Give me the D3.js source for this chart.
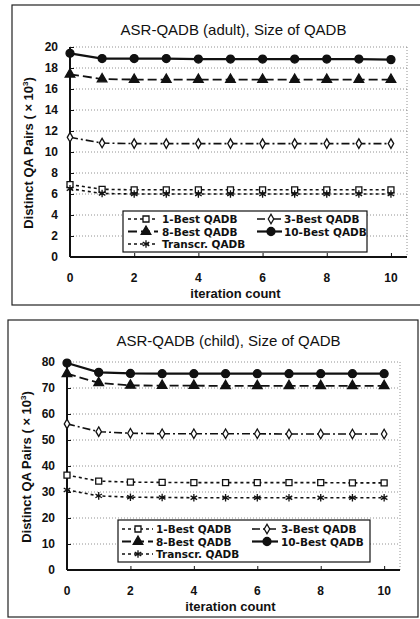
<!DOCTYPE html>
<html lang="en">
<head>
  <meta charset="UTF-8">
  <title>ASR-QADB, Size of QADB</title>
  <script src="https://d3js.org/d3.v7.min.js"></script>
  <style>
    body { margin: 0; background: #fff; }
    text { font-family: "Liberation Sans", Arial, sans-serif; fill: #111; }
    .tick-label { font-size: 12px; font-weight: bold; }
    .axis-title { font-size: 13px; font-weight: bold; }
    .chart-title { font-size: 15px; }
    .legend-text { font-family: "DejaVu Sans", sans-serif; font-size: 10.5px; font-weight: bold; }
  </style>
</head>
<body>
  <svg id="chart" width="420" height="619"></svg>

  <script>
    // x values: iteration count
    const iterations = [0, 1, 2, 3, 4, 5, 6, 7, 8, 9, 10];
    const xTicks = [0, 2, 4, 6, 8, 10];

    // adult panel (x 10^3)
    const adult1Best   = [6.9, 6.45, 6.4, 6.4, 6.4, 6.4, 6.4, 6.4, 6.4, 6.4, 6.4];
    const adult3Best   = [11.4, 10.85, 10.8, 10.8, 10.8, 10.8, 10.8, 10.8, 10.8, 10.8, 10.8];
    const adult8Best   = [17.4, 16.95, 16.9, 16.9, 16.9, 16.9, 16.9, 16.9, 16.9, 16.9, 16.9];
    const adult10Best  = [19.4, 18.9, 18.9, 18.9, 18.85, 18.85, 18.85, 18.85, 18.85, 18.85, 18.8];
    const adultTranscr = [6.5, 6.05, 6.0, 6.0, 6.0, 6.0, 6.0, 6.0, 6.0, 6.0, 6.0];
    const adultYTicks  = [0, 2, 4, 6, 8, 10, 12, 14, 16, 18, 20];

    // child panel (x 10^3)
    const child1Best   = [36.5, 34.2, 33.8, 33.7, 33.6, 33.6, 33.6, 33.6, 33.6, 33.5, 33.5];
    const child3Best   = [56.2, 53.2, 52.6, 52.4, 52.4, 52.4, 52.4, 52.3, 52.3, 52.3, 52.3];
    const child8Best   = [75.5, 72.0, 71.0, 70.9, 70.9, 70.8, 70.8, 70.8, 70.8, 70.8, 70.8];
    const child10Best  = [79.6, 76.0, 75.6, 75.5, 75.5, 75.5, 75.5, 75.5, 75.5, 75.5, 75.5];
    const childTranscr = [30.8, 28.5, 28.0, 27.9, 27.8, 27.8, 27.8, 27.8, 27.8, 27.8, 27.8];
    const childYTicks  = [0, 10, 20, 30, 40, 50, 60, 70, 80];

    const seriesNames = ["1-Best QADB", "3-Best QADB", "8-Best QADB", "10-Best QADB", "Transcr. QADB"];

    // line + marker style per series
    const styles = {
      "1-Best QADB":   { dash: "3,3",     width: 1.6, symbol: d3.symbolSquare,   size: 36, fill: "#fff" },
      "3-Best QADB":   { dash: "8,3,2,3", width: 1.6, symbol: d3.symbolDiamond,  size: 26, fill: "#fff" },
      "8-Best QADB":   { dash: "9,4",     width: 1.8, symbol: d3.symbolTriangle, size: 40, fill: "#111" },
      "10-Best QADB":  { dash: null,      width: 2.2, symbol: d3.symbolCircle,   size: 50, fill: "#111" },
      "Transcr. QADB": { dash: "3,3",     width: 1.6, symbol: d3.symbolAsterisk, size: 40, fill: "none" }
    };

    const svg = d3.select("#chart");

    function drawPanel(p) {
      const g = svg.append("g");

      // outer frame
      g.append("rect")
        .attr("x", p.frame[0]).attr("y", p.frame[1])
        .attr("width", p.frame[2] - p.frame[0]).attr("height", p.frame[3] - p.frame[1])
        .attr("fill", "none").attr("stroke", "#222").attr("stroke-width", 1.2);

      g.append("text")
        .attr("class", "chart-title")
        .attr("x", (p.left + p.right) / 2 - 5)
        .attr("y", p.titleY)
        .attr("text-anchor", "middle")
        .text(p.title);

      const x = d3.scaleLinear().domain([0, 10.5]).range([p.left, p.right]);
      const y = d3.scaleLinear().domain([0, d3.max(p.yTicks)]).range([p.bottom, p.top]);

      // dotted gridlines and plot border
      g.selectAll(".grid")
        .data(p.yTicks.filter(d => d > 0))
        .enter()
        .append("line")
        .attr("x1", p.left).attr("x2", p.right)
        .attr("y1", d => y(d)).attr("y2", d => y(d))
        .attr("stroke", "#777").attr("stroke-width", 0.8).attr("stroke-dasharray", "1,2");
      g.append("line")
        .attr("x1", p.right).attr("x2", p.right).attr("y1", p.top).attr("y2", p.bottom)
        .attr("stroke", "#777").attr("stroke-width", 0.8).attr("stroke-dasharray", "1,2");

      // axes
      const yAxis = g.append("g")
        .attr("transform", "translate(" + p.left + ",0)")
        .call(d3.axisRight(y).tickValues(p.yTicks).tickSize(4).tickFormat(""));
      const xAxis = g.append("g")
        .attr("transform", "translate(0," + p.bottom + ")")
        .call(d3.axisTop(x).tickValues(xTicks).tickSize(4).tickFormat(""));
      [yAxis, xAxis].forEach(a => {
        a.select(".domain").attr("stroke", "#111").attr("stroke-width", 2);
        a.selectAll(".tick line").attr("stroke", "#111").attr("stroke-width", 1);
      });
      yAxis.select(".domain").attr("d", "M0," + p.top + "V" + p.bottom);
      xAxis.select(".domain").attr("d", "M" + p.left + ",0H" + p.right);

      g.selectAll(".ylab")
        .data(p.yTicks)
        .enter()
        .append("text")
        .attr("class", "tick-label")
        .attr("x", p.left - 12)
        .attr("y", d => y(d) + 4)
        .attr("text-anchor", "end")
        .text(d => d);

      g.selectAll(".xlab")
        .data(xTicks)
        .enter()
        .append("text")
        .attr("class", "tick-label")
        .attr("x", d => x(d))
        .attr("y", p.bottom + 25)
        .attr("text-anchor", "middle")
        .text(d => d);

      g.append("text")
        .attr("class", "axis-title")
        .attr("x", (p.left + p.right) / 2 - 3)
        .attr("y", p.bottom + 41)
        .attr("text-anchor", "middle")
        .text("iteration count");

      const yt = g.append("text")
        .attr("class", "axis-title")
        .attr("transform", "translate(" + p.yTitleX + "," + ((p.top + p.bottom) / 2 + 1) + ") rotate(-90)")
        .attr("text-anchor", "middle");
      yt.append("tspan").text("Distinct QA Pairs ( \u00d7 10");
      yt.append("tspan").attr("dy", -5).attr("font-size", "8px").text("3");
      yt.append("tspan").attr("dy", 5).text(")");

      // series
      const line = d3.line().x((d, i) => x(iterations[i])).y(d => y(d));
      seriesNames.forEach((name, k) => {
        const st = styles[name];
        const vals = p.series[k];
        g.append("path")
          .datum(vals)
          .attr("d", line)
          .attr("fill", "none")
          .attr("stroke", "#111")
          .attr("stroke-width", st.width)
          .attr("stroke-dasharray", st.dash);
        g.selectAll(".m" + k)
          .data(vals)
          .enter()
          .append("path")
          .attr("transform", (d, i) => "translate(" + x(iterations[i]) + "," + y(d) + ")")
          .attr("d", d3.symbol().type(st.symbol).size(st.size))
          .attr("fill", st.fill)
          .attr("stroke", "#111")
          .attr("stroke-width", 1.3);
      });

      // legend
      const L = p.legend;
      g.append("rect")
        .attr("x", L.x0).attr("y", L.y0)
        .attr("width", L.x1 - L.x0).attr("height", L.y1 - L.y0)
        .attr("fill", "#fff").attr("stroke", "#111").attr("stroke-width", 1.2);
      const slots = [[0, 0], [1, 0], [0, 1], [1, 1], [0, 2]];
      seriesNames.forEach((name, k) => {
        const st = styles[name];
        const col = L.cols[slots[k][0]];
        const cy = L.rows[slots[k][1]];
        g.append("line")
          .attr("x1", col.l0).attr("x2", col.l1).attr("y1", cy).attr("y2", cy)
          .attr("stroke", "#111").attr("stroke-width", st.width)
          .attr("stroke-dasharray", st.dash);
        g.append("path")
          .attr("transform", "translate(" + col.m + "," + cy + ")")
          .attr("d", d3.symbol().type(st.symbol).size(st.size))
          .attr("fill", st.fill).attr("stroke", "#111").attr("stroke-width", 1.3);
        g.append("text")
          .attr("class", "legend-text")
          .attr("x", col.t).attr("y", cy + 4)
          .text(name);
      });
    }

    drawPanel({
      title: "ASR-QADB (adult), Size of QADB",
      frame: [12, 5, 421, 305],
      titleY: 35,
      left: 70, right: 407, top: 47, bottom: 257,
      yTitleX: 33,
      yTicks: adultYTicks,
      series: [adult1Best, adult3Best, adult8Best, adult10Best, adultTranscr],
      legend: {
        x0: 123, x1: 367, y0: 211, y1: 252,
        rows: [219, 231.5, 244],
        cols: [{ l0: 128, l1: 158, m: 146, t: 162 }, { l0: 257, l1: 282, m: 271, t: 284 }]
      }
    });

    drawPanel({
      title: "ASR-QADB (child), Size of QADB",
      frame: [8, 320, 418, 617],
      titleY: 346,
      left: 67, right: 400, top: 362, bottom: 570,
      yTitleX: 31,
      yTicks: childYTicks,
      series: [child1Best, child3Best, child8Best, child10Best, childTranscr],
      legend: {
        x0: 118, x1: 370, y0: 520, y1: 562,
        rows: [529, 541.5, 554],
        cols: [{ l0: 122, l1: 153, m: 138, t: 156 }, { l0: 252, l1: 278, m: 267, t: 281 }]
      }
    });
  </script>
</body>
</html>
